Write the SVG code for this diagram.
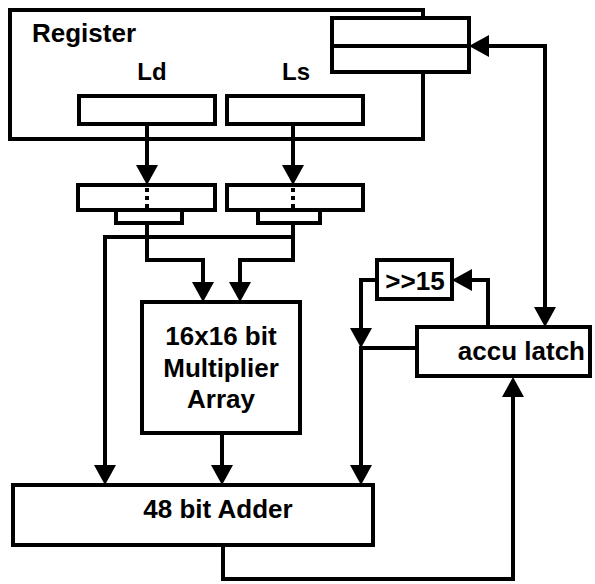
<svg xmlns="http://www.w3.org/2000/svg" width="595" height="584" viewBox="0 0 595 584">
<defs>
<marker id="ah" viewBox="0 0 20 22" refX="0" refY="11" markerWidth="20" markerHeight="22" markerUnits="userSpaceOnUse" orient="auto-start-reverse">
<path d="M0,0 L20,11 L0,22 z" fill="#000"/>
</marker>
<style>
.box{fill:#fff;stroke:#000;stroke-width:4}
.ln{fill:none;stroke:#000;stroke-width:4}
.ar{fill:none;stroke:#000;stroke-width:4;marker-end:url(#ah)}
.dash{fill:none;stroke:#000;stroke-width:4;stroke-dasharray:4 4}
text{font-family:"Liberation Sans",Arial,Helvetica,sans-serif;font-weight:bold;fill:#000}
.t{font-size:26px}
.s{font-size:24px}
</style>
</defs>
<rect width="595" height="584" fill="#fff"/>
<g id="register">
<path class="ln" d="M423,18 V10 H10 V139 H423 V72"/>
<text class="t" x="32" y="42">Register</text>
<text class="s" x="152" y="80" text-anchor="middle">Ld</text>
<text class="s" x="296" y="80" text-anchor="middle">Ls</text>
</g>
<g id="ld-reg"><rect class="box" x="79" y="96" width="136" height="28"/></g>
<g id="ls-reg"><rect class="box" x="227" y="96" width="136" height="28"/></g>
<g id="acc-reg">
<rect class="box" x="332" y="18" width="137" height="54"/>
<line class="ln" x1="332" y1="46" x2="469" y2="46"/>
</g>
<g id="mux-left">
<rect class="box" x="78" y="185" width="137" height="25"/>
<rect class="box" x="116" y="210" width="66" height="13"/>
<line class="dash" x1="147" y1="188" x2="147" y2="208"/>
</g>
<g id="mux-right">
<rect class="box" x="227" y="185" width="136" height="25"/>
<rect class="box" x="258" y="210" width="62" height="13"/>
<line class="dash" x1="293" y1="188" x2="293" y2="208"/>
</g>
<g id="multiplier">
<rect class="box" x="142" y="302" width="158" height="131"/>
<text class="t" x="221" y="345" text-anchor="middle">16x16 bit</text>
<text class="t" x="221" y="377" text-anchor="middle">Multiplier</text>
<text class="t" x="221" y="408" text-anchor="middle">Array</text>
</g>
<g id="adder">
<rect class="box" x="13" y="485" width="360" height="60"/>
<text class="t" x="218" y="518" text-anchor="middle">48 bit Adder</text>
</g>
<g id="shift">
<rect class="box" x="377" y="260" width="75" height="39"/>
<text class="t" x="415" y="290" text-anchor="middle">&gt;&gt;15</text>
</g>
<g id="accu-latch">
<rect class="box" x="417" y="327" width="173" height="49"/>
<text class="t" x="585" y="360" text-anchor="end">accu latch</text>
</g>
<g id="connectors">
<path class="ar" d="M147,124 V165"/>
<path class="ar" d="M293,124 V165"/>
<path class="ar" d="M147,223 V260 H203 V282"/>
<path class="ar" d="M293,223 V260 H240 V282"/>
<path class="ar" d="M293,237 H105 V465"/>
<path class="ar" d="M222,433 V465"/>
<path class="ar" d="M377,280 H361 V328"/>
<path class="ar" d="M417,348 H361 V465"/>
<path class="ar" d="M488,327 V280 H472"/>
<path class="ar" d="M223,545 V579 H513 V397"/>
<path class="ar" d="M489,46 H545 V307" style="marker-start:url(#ah)"/>
</g>
</svg>
